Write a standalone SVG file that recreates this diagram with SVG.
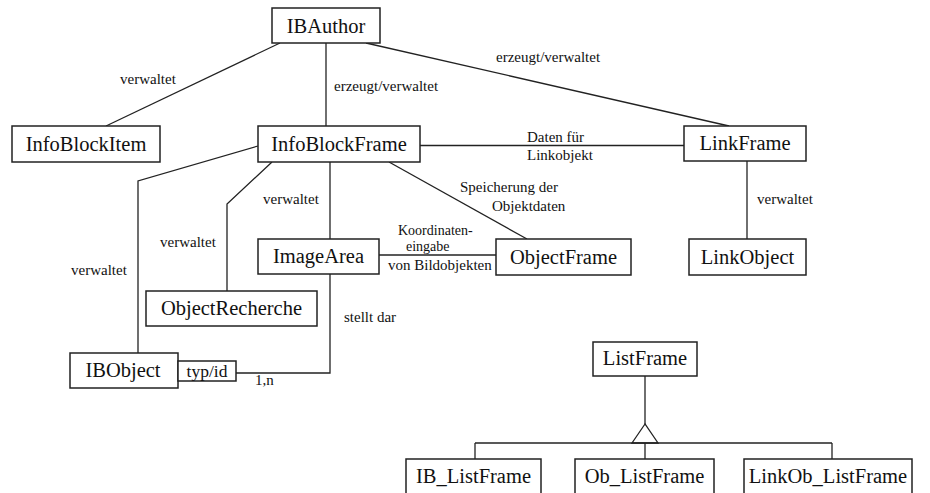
<svg xmlns="http://www.w3.org/2000/svg" width="930" height="493" viewBox="0 0 930 493">
  <style>
    .box { fill: #fff; stroke: #222; stroke-width: 1.5; }
    .line { fill: none; stroke: #222; stroke-width: 1.3; }
    .name { font-family: "Times New Roman", "Liberation Serif", "DejaVu Serif", serif; font-size: 20.5px; fill: #111; text-anchor: middle; }
    .lbl { font-family: "Times New Roman", "Liberation Serif", "DejaVu Serif", serif; font-size: 15px; fill: #111; }
    .lbl-s { font-size: 14px; }
  </style>
  <rect width="930" height="493" fill="#fff"/>

  <!-- connectors -->
  <g id="connectors" class="line">
    <line x1="280" y1="43" x2="106" y2="126"/>
    <line x1="326" y1="43" x2="326" y2="126"/>
    <line x1="366" y1="43" x2="729" y2="126"/>
    <line x1="420" y1="145.5" x2="684" y2="145.5"/>
    <line x1="747" y1="161" x2="747" y2="239"/>
    <line x1="389" y1="162" x2="527" y2="239"/>
    <line x1="330" y1="162" x2="330" y2="239"/>
    <line x1="379" y1="255" x2="496" y2="255"/>
    <polyline points="272,162 227,204 227,291"/>
    <polyline points="258,146 138,181 138,353"/>
    <polyline points="236,373 330,373 330,274"/>
    <line x1="645" y1="376" x2="645" y2="424"/>
    <polygon points="645,424 632,443 658,443"/>
    <line x1="475" y1="443" x2="832" y2="443"/>
    <line x1="475" y1="443" x2="475" y2="459"/>
    <line x1="645" y1="443" x2="645" y2="459"/>
    <line x1="832" y1="443" x2="832" y2="459"/>
  </g>

  <!-- connector labels -->
  <g id="labels" class="lbl">
    <text x="120" y="84">verwaltet</text>
    <text x="334" y="91">erzeugt/verwaltet</text>
    <text x="496" y="62">erzeugt/verwaltet</text>
    <text x="527" y="142">Daten für</text>
    <text x="527" y="160">Linkobjekt</text>
    <text x="460" y="192">Speicherung der</text>
    <text x="492" y="211">Objektdaten</text>
    <text x="757" y="204">verwaltet</text>
    <text x="263" y="204">verwaltet</text>
    <text x="160" y="247">verwaltet</text>
    <text x="71" y="275">verwaltet</text>
    <text class="lbl-s" x="398" y="235">Koordinaten-</text>
    <text class="lbl-s" x="406" y="251">eingabe</text>
    <text x="388" y="270">von Bildobjekten</text>
    <text x="344" y="322">stellt dar</text>
    <text x="255" y="385">1,n</text>
  </g>

  <!-- nodes -->
  <g id="IBAuthor"><rect class="box" x="272" y="8" width="108" height="35"/><text class="name" x="326" y="33">IBAuthor</text></g>
  <g id="InfoBlockItem"><rect class="box" x="12" y="126" width="148" height="36"/><text class="name" x="86" y="151">InfoBlockItem</text></g>
  <g id="InfoBlockFrame"><rect class="box" x="258" y="126" width="162" height="36"/><text class="name" x="339" y="151">InfoBlockFrame</text></g>
  <g id="LinkFrame"><rect class="box" x="684" y="126" width="122" height="35"/><text class="name" x="745" y="150">LinkFrame</text></g>
  <g id="ImageArea"><rect class="box" x="258" y="239" width="121" height="35"/><text class="name" x="318.5" y="263">ImageArea</text></g>
  <g id="ObjectFrame"><rect class="box" x="496" y="239" width="135" height="36"/><text class="name" x="563.5" y="264">ObjectFrame</text></g>
  <g id="LinkObject"><rect class="box" x="689" y="239" width="117" height="36"/><text class="name" x="747.5" y="264">LinkObject</text></g>
  <g id="ObjectRecherche"><rect class="box" x="146" y="291" width="171" height="35"/><text class="name" x="231.5" y="315">ObjectRecherche</text></g>
  <g id="IBObject"><rect class="box" x="70" y="353" width="108" height="35"/><text class="name" x="123" y="377">IBObject</text></g>
  <g id="typ-id"><rect class="box" x="178" y="361" width="58" height="20"/><text class="name" x="207" y="377" style="font-size:17.5px">typ/id</text></g>
  <g id="ListFrame"><rect class="box" x="593" y="342" width="104" height="34"/><text class="name" x="645" y="365">ListFrame</text></g>
  <g id="IB_ListFrame"><rect class="box" x="406" y="459" width="135" height="45"/><text class="name" x="473.5" y="483">IB_ListFrame</text></g>
  <g id="Ob_ListFrame"><rect class="box" x="575" y="459" width="139" height="45"/><text class="name" x="644.5" y="483">Ob_ListFrame</text></g>
  <g id="LinkOb_ListFrame"><rect class="box" x="744" y="459" width="168" height="45"/><text class="name" x="828" y="483">LinkOb_ListFrame</text></g>
</svg>
